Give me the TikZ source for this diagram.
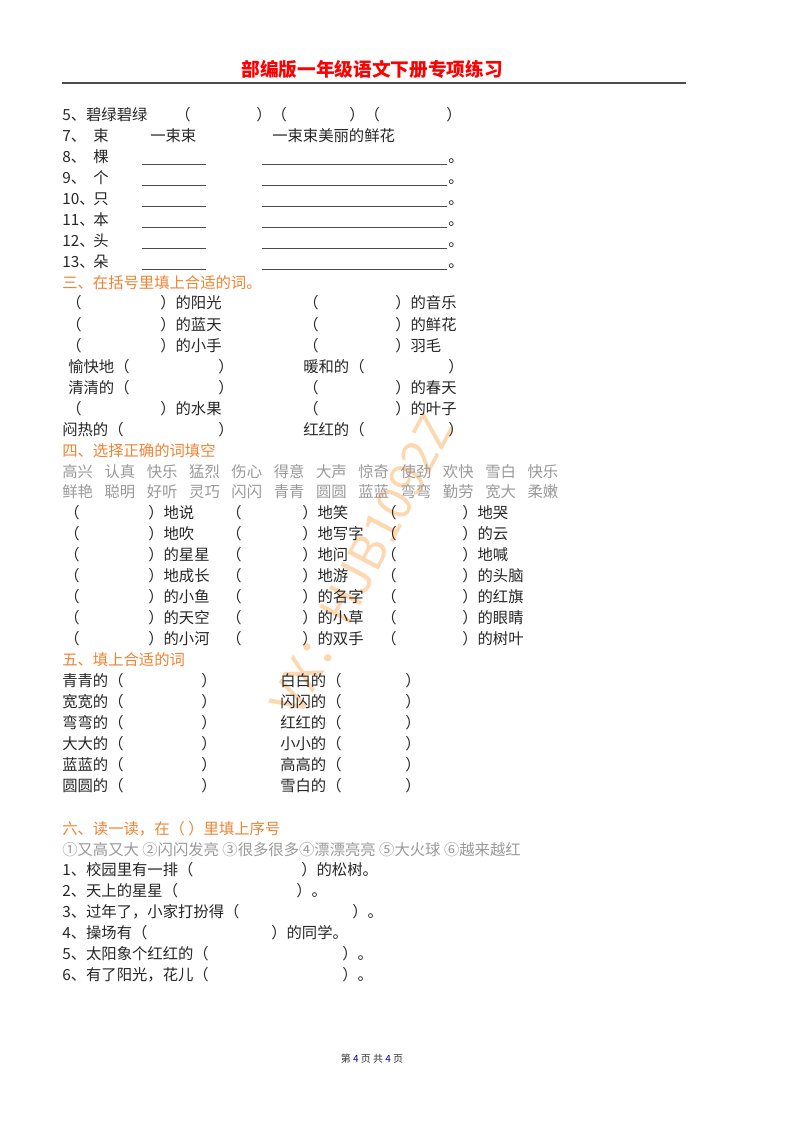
\documentclass[tikz,border=0pt]{standalone}
\usepackage{fontspec}
\setmainfont{Noto Sans CJK SC}
\begin{document}
\begin{tikzpicture}[x=0.75pt,y=-0.75pt,
  t/.style={anchor=base west,inner sep=0,font=\fontsize{11.5}{12}\selectfont,text=black!85},
  h/.style={t,text={rgb,255:red,240;green,130;blue,50}},
  g/.style={t,text=black!40},
  ul/.style={black!70,line width=0.5pt}]
\useasboundingbox (0,0) rectangle (800,1132);
% watermark
\node[rotate=62,font=\fontsize{36}{36}\selectfont,text={rgb,255:red,252;green,215;blue,175}] (wm) at (362,565) {VX：HJB1092Z};
\node[anchor=base,font=\fontsize{14}{15}\selectfont\bfseries,text=red] (title) at (372,76) {部编版一年级语文下册专项练习};
\draw[black!70,line width=1.4pt] (62,83) -- (686,83);
% first block
\node[t] (l5) at (62,120) {5、碧绿碧绿};
\node[t] (p1) at (175,120) {（};
\node[t] (p2) at (256,120) {）（};
\node[t] (p3) at (349,120) {）（};
\node[t] (p4) at (446,120) {）};
\node[t] (l7) at (62,141) {7、};
\node[t] (l7b) at (93,141) {束};
\node[t] (l7c) at (150,141) {一束束};
\node[t] (l7d) at (272,141) {一束束美丽的鲜花};
\foreach \n/\c [count=\i] in {8/棵,9/个,10/只,11/本,12/头,13/朵}{
  \pgfmathsetmacro\yy{141+21*\i}
  \node[t] (n\i) at (62,\yy) {\n、};
  \node[t] (c\i) at (93,\yy) {\c};
  \coordinate (a\i) at (142,\yy+2); \coordinate (b\i) at (206,\yy+2);
  \coordinate (d\i) at (262,\yy+2); \coordinate (e\i) at (447,\yy+2);
  \draw[ul] (a\i) -- (b\i); \draw[ul] (d\i) -- (e\i);
  \node[t] (s\i) at (448,\yy) {。};
}
% section 3
\node[h] (h3) at (62,288) {三、在括号里填上合适的词。};
\node[t] (k1) at (66,308) {（}; \node[t] (k2) at (160,308) {）的阳光}; \node[t] (k3) at (303,308) {（}; \node[t] (k4) at (395,308) {）的音乐};
\node[t] (k5) at (66,330) {（}; \node[t] (k6) at (160,330) {）的蓝天}; \node[t] (k7) at (303,330) {（}; \node[t] (k8) at (395,330) {）的鲜花};
\node[t] (k9) at (66,351) {（}; \node[t] (k10) at (160,351) {）的小手}; \node[t] (k11) at (303,351) {（}; \node[t] (k12) at (395,351) {）羽毛};
\node[t] (k13) at (68,372) {愉快地（}; \node[t] (k14) at (218,372) {）}; \node[t] (k15) at (303,372) {暖和的（}; \node[t] (k16) at (448,372) {）};
\node[t] (k17) at (68,393) {清清的（}; \node[t] (k18) at (218,393) {）}; \node[t] (k19) at (303,393) {（}; \node[t] (k20) at (395,393) {）的春天};
\node[t] (k21) at (66,414) {（}; \node[t] (k22) at (160,414) {）的水果}; \node[t] (k23) at (303,414) {（}; \node[t] (k24) at (395,414) {）的叶子};
\node[t] (k25) at (62,435) {闷热的（}; \node[t] (k26) at (218,435) {）}; \node[t] (k27) at (303,435) {红红的（}; \node[t] (k28) at (448,435) {）};
% section 4
\node[h] (h4) at (62,456) {四、选择正确的词填空};
\foreach \w [count=\i from 0] in {高兴,认真,快乐,猛烈,伤心,得意,大声,惊奇,使劲,欢快,雪白,快乐}
  \node[g] (ga\i) at (62+42.3*\i,477) {\w};
\foreach \w [count=\i from 0] in {鲜艳,聪明,好听,灵巧,闪闪,青青,圆圆,蓝蓝,弯弯,勤劳,宽大,柔嫩}
  \node[g] (gb\i) at (62+42.3*\i,497) {\w};
\foreach \a/\b/\c [count=\i from 0] in {地说/地笑/地哭,地吹/地写字/的云,的星星/地问/地喊,地成长/地游/的头脑,的小鱼/的名字/的红旗,的天空/的小草/的眼睛,的小河/的双手/的树叶}{
  \pgfmathsetmacro\yy{518+21*\i}
  \node[t] (qa\i) at (64,\yy) {（}; \node[t] (ra\i) at (148,\yy) {）\a};
  \node[t] (qb\i) at (226,\yy) {（}; \node[t] (rb\i) at (302,\yy) {）\b};
  \node[t] (qc\i) at (381,\yy) {（}; \node[t] (rc\i) at (462,\yy) {）\c};
}
% section 5
\node[h] (h5) at (62,665) {五、填上合适的词};
\foreach \a/\b [count=\i from 0] in {青青的/白白的,宽宽的/闪闪的,弯弯的/红红的,大大的/小小的,蓝蓝的/高高的,圆圆的/雪白的}{
  \pgfmathsetmacro\yy{686+21*\i}
  \node[t] (fa\i) at (62,\yy) {\a（}; \node[t] (fb\i) at (201,\yy) {）};
  \node[t] (fc\i) at (280,\yy) {\b（}; \node[t] (fd\i) at (405,\yy) {）};
}
% section 6
\node[h] (h6) at (62,834) {六、读一读，在（ ）里填上序号};
\node[g] (opt) at (62,855) {①又高又大 ②闪闪发亮 ③很多很多④漂漂亮亮 ⑤大火球 ⑥越来越红};
\foreach \a/\x/\b [count=\i from 0] in {1、校园里有一排（/301/）的松树。,2、天上的星星（/296/）。,3、过年了，小家打扮得（/352/）。,4、操场有（/271/）的同学。,5、太阳象个红红的（/342/）。,6、有了阳光，花儿（/342/）。}{
  \pgfmathsetmacro\yy{875+21*\i}
  \node[t] (sa\i) at (62,\yy) {\a}; \node[t] (sb\i) at (\x,\yy) {\b};
}
\node[anchor=base,font=\fontsize{7.5}{8}\selectfont,text=black!80] (foot) at (372,1062) {第 {\color{blue!70!black}4} 页 共 {\color{blue!70!black}4} 页};
\end{tikzpicture}
\end{document}
